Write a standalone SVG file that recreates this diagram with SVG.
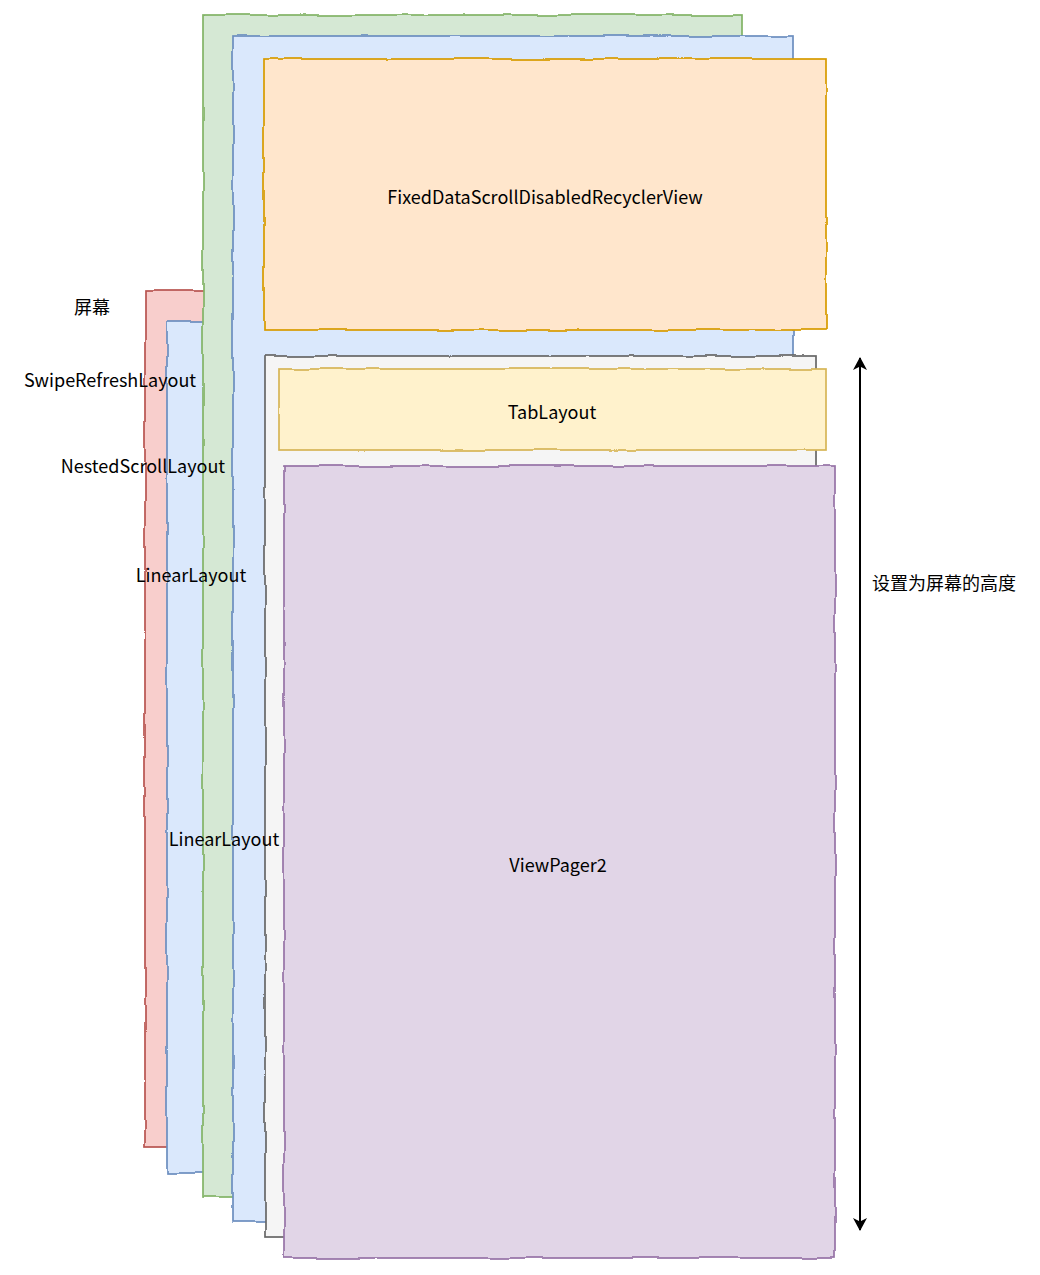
<svg xmlns="http://www.w3.org/2000/svg" width="1040" height="1275" viewBox="0 0 1040 1275">
<style>
text{font-family:"Noto Sans CJK SC","Noto Sans",sans-serif;font-size:18px;fill:#000;text-anchor:middle;dominant-baseline:central}
.b{stroke-width:1.7;filter:url(#rough)}
.red{fill:#f8cecc;stroke:#b85450}
.blue{fill:#dae8fc;stroke:#6c8ebf}
.green{fill:#d5e8d4;stroke:#82b366}
.orange{fill:#ffe6cc;stroke:#d79b00}
.gray{fill:#f5f5f5;stroke:#666666}
.yellow{fill:#fff2cc;stroke:#d6b656}
.purple{fill:#e1d5e7;stroke:#9673a6}
</style>
<defs>
<filter id="rough" x="-5%" y="-5%" width="110%" height="110%">
<feTurbulence type="fractalNoise" baseFrequency="0.025" numOctaves="2" seed="4" result="n"/>
<feDisplacementMap in="SourceGraphic" in2="n" scale="4" xChannelSelector="R" yChannelSelector="G"/>
</filter>
<marker id="ah" markerWidth="14" markerHeight="14" refX="12" refY="7" orient="auto-start-reverse" markerUnits="userSpaceOnUse">
<path d="M0,0 L13,7 L0,14 L3.5,7 Z" fill="#000"/>
</marker>
</defs>
<g id="screen"><rect class="b red" x="145" y="291" width="80" height="856"/><text x="92" y="306">屏幕</text></g>
<g id="swipe"><rect class="b blue" x="167" y="322" width="60" height="851"/><text x="110" y="379">SwipeRefreshLayout</text></g>
<g id="nested"><rect class="b green" x="203" y="15" width="540" height="1182"/><text x="143" y="465">NestedScrollLayout</text></g>
<g id="linear1"><rect class="b blue" x="233" y="36" width="560" height="1186"/><text x="191" y="574">LinearLayout</text></g>
<g id="recycler"><rect class="b orange" x="264" y="59" width="562" height="271"/><text x="545" y="196">FixedDataScrollDisabledRecyclerView</text></g>
<g id="linear2"><rect class="b gray" x="265" y="356" width="551" height="881"/><text x="224" y="838">LinearLayout</text></g>
<g id="tab"><rect class="b yellow" x="279" y="369" width="547" height="81"/><text x="552" y="411">TabLayout</text></g>
<g id="pager"><rect class="b purple" x="284" y="466" width="551" height="792"/><text x="558" y="864">ViewPager2</text></g>
<g id="connectors"><line x1="860" y1="358" x2="860" y2="1230" stroke="#000" stroke-width="2" marker-start="url(#ah)" marker-end="url(#ah)"/></g>
<g id="heightLabel"><text x="944" y="582">设置为屏幕的高度</text></g>
</svg>
